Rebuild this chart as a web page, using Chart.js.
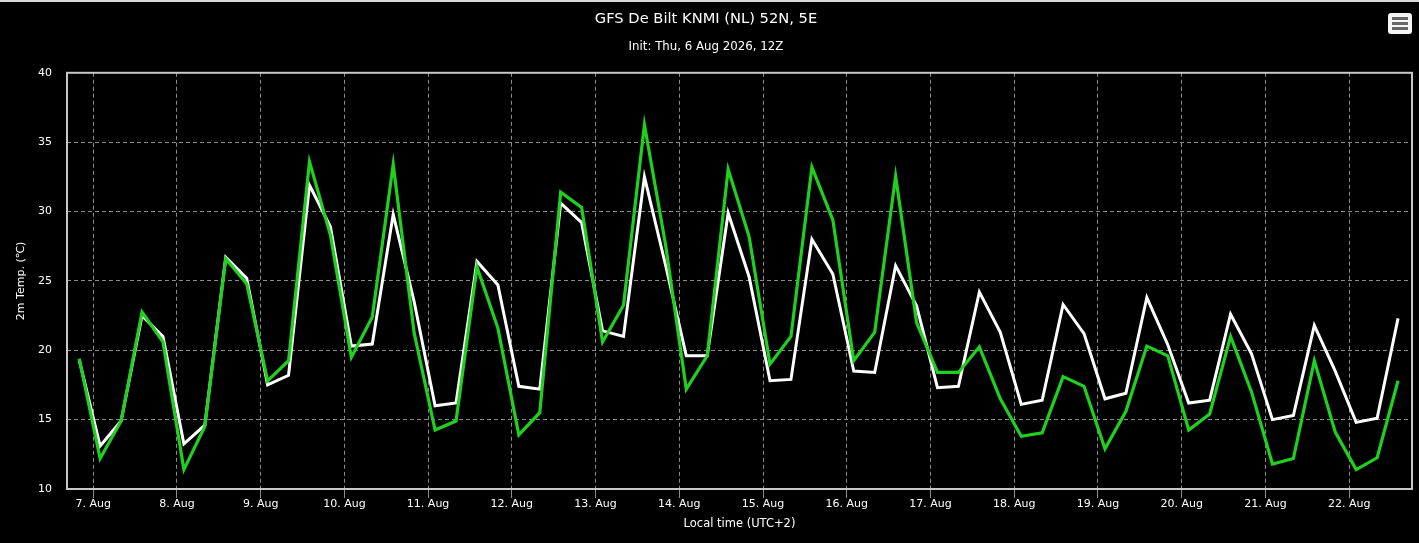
<!DOCTYPE html>
<html>
<head>
<meta charset="utf-8">
<script src="https://cdn.jsdelivr.net/npm/chart.js@4"></script>
<style>
  html, body { margin: 0; padding: 0; background: #000; }
  #wrap { position: relative; width: 1419px; height: 543px; background: #000; }
  #topline { position: absolute; left: 0; top: 0; width: 1419px; height: 2px; background: #d8d8d8; }
  #menu { position: absolute; left: 1388px; top: 13px; width: 24px; height: 21px; background: #f4f4f4; border-radius: 3px; }
  #menu span { position: absolute; left: 4px; width: 16px; height: 3px; background: #666; }
</style>
</head>
<body>
<div id="wrap">
  <canvas id="tempChart" width="1419" height="543"></canvas>
  <div id="topline"></div>
  <div id="menu"><span style="top:4px"></span><span style="top:9px"></span><span style="top:14px"></span></div>
</div>
<script>
// hours after 7 Aug 00:00 local time (UTC+2)
const hours = [
  -4, 2, 8, 14, 20, 26, 32, 38, 44, 50, 56, 62, 68, 74, 80, 86,
  92, 98, 104, 110, 116, 122, 128, 134, 140, 146, 152, 158, 164, 170, 176, 182,
  188, 194, 200, 206, 212, 218, 224, 230, 236, 242, 248, 254, 260, 266, 272, 278,
  284, 290, 296, 302, 308, 314, 320, 326, 332, 338, 344, 350, 356, 362, 368, 374
];

const whiteTemps = [
  19.3, 13.1, 14.9, 22.5, 21.0, 13.25, 14.6, 26.7, 25.2, 17.5, 18.2, 31.9, 28.9, 20.3, 20.45, 29.8,
  23.5, 16.0, 16.2, 26.4, 24.7, 17.4, 17.2, 30.6, 29.2, 21.4, 21.0, 32.5, 26.2, 19.6, 19.6, 29.9,
  25.3, 17.8, 17.9, 28.0, 25.5, 18.5, 18.4, 26.1, 23.2, 17.3, 17.4, 24.2, 21.3, 16.1, 16.4, 23.3,
  21.2, 16.5, 16.9, 23.8, 20.4, 16.2, 16.4, 22.6, 19.75, 15.0, 15.3, 21.8, 18.5, 14.8, 15.1, 22.3
];

const greenTemps = [
  19.4, 12.2, 14.9, 22.75, 20.6, 11.4, 14.5, 26.6, 24.8, 17.8, 19.25, 33.6, 28.3, 19.5, 22.4, 33.4,
  21.25, 14.25, 14.9, 26.0, 21.6, 13.9, 15.5, 31.4, 30.3, 20.6, 23.25, 36.25, 27.7, 17.2, 19.6, 33.05,
  28.2, 19.0, 21.0, 33.2, 29.4, 19.25, 21.3, 32.55, 22.0, 18.4, 18.4, 20.25, 16.5, 13.8, 14.05, 18.1,
  17.4, 12.9, 15.6, 20.3, 19.6, 14.25, 15.4, 21.0, 17.0, 11.8, 12.2, 19.25, 14.1, 11.4, 12.25, 17.8
];

const dayTicks = [0, 24, 48, 72, 96, 120, 144, 168, 192, 216, 240, 264, 288, 312, 336, 360];
const dayLabels = [
  '7. Aug', '8. Aug', '9. Aug', '10. Aug', '11. Aug', '12. Aug', '13. Aug', '14. Aug',
  '15. Aug', '16. Aug', '17. Aug', '18. Aug', '19. Aug', '20. Aug', '21. Aug', '22. Aug'
];
const yTicks = [10, 15, 20, 25, 30, 35, 40];

const FONT = '"DejaVu Sans", Verdana, sans-serif';

const toPoints = (vals) => hours.map((h, i) => ({ x: h, y: vals[i] }));

// frame around the plot area
const frame = {
  id: 'frame',
  afterDraw(chart) {
    const { ctx, chartArea: a } = chart;
    ctx.save();
    ctx.strokeStyle = '#c8c8c8';
    ctx.lineWidth = 2;
    ctx.strokeRect(a.left, a.top, a.right - a.left, a.bottom - a.top);
    ctx.restore();
  }
};

const ctx = document.getElementById('tempChart').getContext('2d');
const tempChart = new Chart(ctx, {
  type: 'line',
  data: {
    datasets: [
      {
        label: 'green',
        data: toPoints(greenTemps),
        borderColor: '#1fd01f',
        borderWidth: 3.2,
        pointRadius: 0,
        tension: 0,
        order: 0
      },
      {
        label: 'white',
        data: toPoints(whiteTemps),
        borderColor: '#ffffff',
        borderWidth: 3,
        pointRadius: 0,
        tension: 0,
        order: 1
      }
    ]
  },
  options: {
    responsive: false,
    animation: false,
    layout: { padding: { left: 0, right: 7, top: 0, bottom: 0 } },
    plugins: {
      legend: { display: false },
      tooltip: { enabled: false },
      title: {
        display: true,
        text: 'GFS De Bilt KNMI (NL) 52N, 5E',
        color: '#ffffff',
        font: { family: FONT, size: 14.7, weight: 'normal' },
        padding: { top: 10, bottom: 9 }
      },
      subtitle: {
        display: true,
        text: 'Init: Thu, 6 Aug 2026, 12Z',
        color: '#ffffff',
        font: { family: FONT, size: 11.8, weight: 'normal' },
        padding: { top: 3, bottom: 19 }
      }
    },
    scales: {
      x: {
        type: 'linear',
        min: -7.5,
        max: 378,
        afterBuildTicks: (scale) => { scale.ticks = dayTicks.map(v => ({ value: v })); },
        afterFit: (scale) => { scale.height = 54; },
        ticks: {
          color: '#ffffff',
          font: { family: FONT, size: 11 },
          padding: 0,
          maxRotation: 0,
          autoSkip: false,
          callback: (v) => dayLabels[dayTicks.indexOf(v)]
        },
        grid: {
          color: '#8c8c8c',
          tickColor: '#8c8c8c',
          tickLength: 9,
          lineWidth: 1
        },
        border: { display: false, dash: [4, 3] },
        title: {
          display: true,
          text: 'Local time (UTC+2)',
          color: '#ffffff',
          font: { family: FONT, size: 11.5 },
          padding: { top: 0, bottom: 12 }
        }
      },
      y: {
        min: 10,
        max: 40,
        afterBuildTicks: (scale) => { scale.ticks = yTicks.map(v => ({ value: v })); },
        afterFit: (scale) => { scale.width = 67; },
        ticks: {
          color: '#ffffff',
          font: { family: FONT, size: 11 },
          padding: 15
        },
        grid: {
          color: (c) => (c.tick && (c.tick.value === 10 || c.tick.value === 40)) ? 'rgba(0,0,0,0)' : '#8c8c8c',
          drawTicks: false,
          lineWidth: 1
        },
        border: { display: false, dash: [4, 3] },
        title: {
          display: true,
          text: '2m Temp. (℃)',
          color: '#ffffff',
          font: { family: FONT, size: 11 },
          padding: { top: 15, bottom: 0 }
        }
      }
    }
  },
  plugins: [frame]
});
</script>
</body>
</html>
